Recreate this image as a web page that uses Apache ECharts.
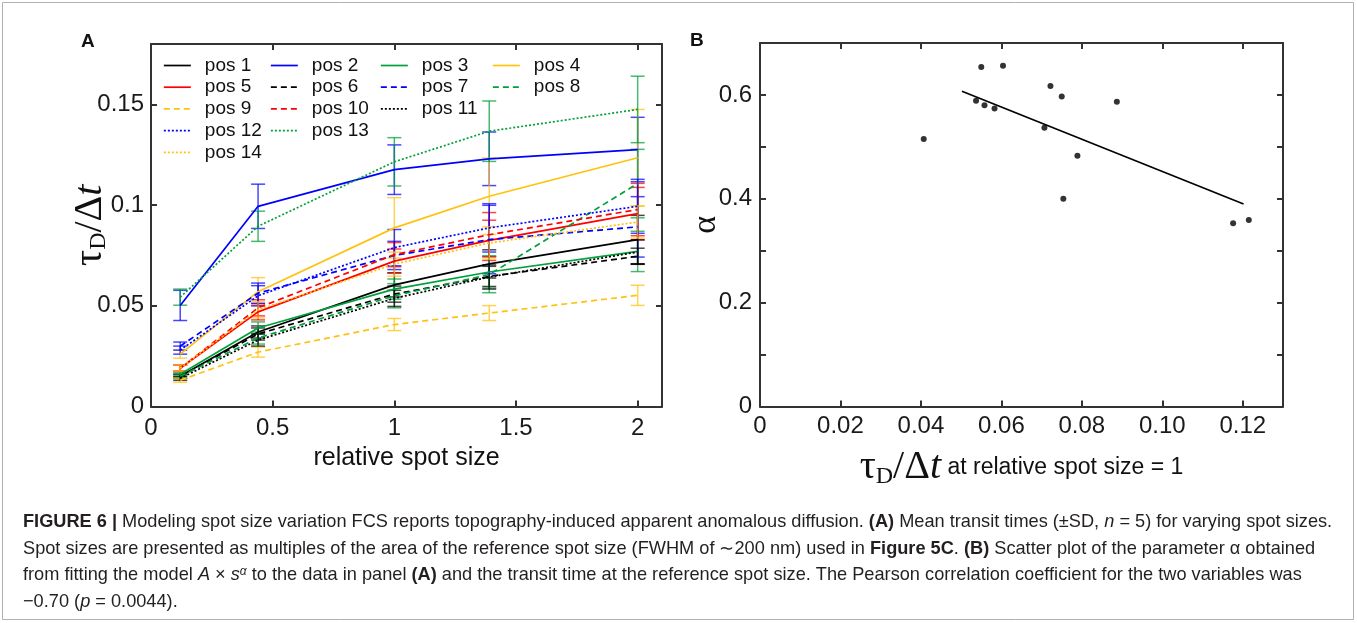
<!DOCTYPE html>
<html>
<head>
<meta charset="utf-8">
<script src="https://cdn.jsdelivr.net/npm/echarts@6/dist/echarts.min.js"></script>
<style>
html,body{margin:0;padding:0;background:#fff;}
#chart{width:1357px;height:623px;}
</style>
</head>
<body>
<div id="chart"></div>
<script>
// ---------- Panel A data ----------
const spotSizes = [0.12, 0.44, 1, 1.39, 2];
const posNames = ['pos 1','pos 2','pos 3','pos 4','pos 5','pos 6','pos 7','pos 8','pos 9','pos 10','pos 11','pos 12','pos 13','pos 14'];
const pos1  = [0.015, 0.037, 0.0604, 0.0708, 0.0829];
const pos2  = [0.0502, 0.0994, 0.1176, 0.1230, 0.1276];
const pos3  = [0.016, 0.039, 0.0583, 0.0668, 0.0770];
const pos4  = [0.026, 0.057, 0.0887, 0.1044, 0.1235];
const pos5  = [0.019, 0.047, 0.0722, 0.0825, 0.0958];
const pos6  = [0.015, 0.036, 0.0558, 0.0646, 0.0746];
const pos7  = [0.030, 0.0563, 0.0750, 0.0829, 0.0892];
const pos8  = [0.015, 0.034, 0.0550, 0.0655, 0.1107];
const pos9  = [0.013, 0.027, 0.0407, 0.0464, 0.0552];
const pos10 = [0.019, 0.049, 0.0754, 0.0853, 0.0978];
const pos11 = [0.014, 0.033, 0.0537, 0.0643, 0.0767];
const pos12 = [0.028, 0.055, 0.0789, 0.0887, 0.0994];
const pos13 = [0.0543, 0.0895, 0.1215, 0.1367, 0.1475];
const pos14 = [0.019, 0.048, 0.0707, 0.0812, 0.0916];
const sd1  = [0.001, 0.003, 0.006, 0.007, 0.012];
const sd2  = [0.0075, 0.011, 0.0123, 0.0133, 0.016];
const sd3  = [0.001, 0.003, 0.005, 0.008, 0.010];
const sd4  = [0.002, 0.007, 0.015, 0.019, 0.024];
const sd5  = [0.0015, 0.004, 0.006, 0.010, 0.013];
const sd6  = [0.001, 0.003, 0.004, 0.005, 0.004];
const sd7  = [0.002, 0.005, 0.007, 0.017, 0.015];
const sd8  = [0.001, 0.003, 0.006, 0.009, 0.017];
const sd9  = [0.001, 0.0025, 0.003, 0.0037, 0.005];
const sd10 = [0.0015, 0.004, 0.006, 0.011, 0.013];
const sd11 = [0.001, 0.003, 0.004, 0.006, 0.006];
const sd12 = [0.002, 0.005, 0.009, 0.012, 0.0134];
const sd13 = [0.004, 0.0075, 0.012, 0.015, 0.0165];
const sd14 = [0.0015, 0.004, 0.006, 0.008, 0.008];
const aXTicks = [0, 0.5, 1, 1.5, 2];
const aXTickLabels = ['0', '0.5', '1', '1.5', '2'];
const aYTicks = [0, 0.05, 0.1, 0.15];
const aYTickLabels = ['0', '0.05', '0.1', '0.15'];

// ---------- Panel B data ----------
const bTau   = [0.0407, 0.0537, 0.0550, 0.0558, 0.0583, 0.0604, 0.0707, 0.0722, 0.0750, 0.0754, 0.0789, 0.0887, 0.1176, 0.1215];
const bAlpha = [0.515, 0.589, 0.654, 0.580, 0.574, 0.656, 0.537, 0.617, 0.597, 0.400, 0.483, 0.587, 0.353, 0.359];
const fitX = [0.0502, 0.1202];
const fitY = [0.607, 0.390];
const bXTicks = [0, 0.02, 0.04, 0.06, 0.08, 0.10, 0.12];
const bXTickLabels = ['0', '0.02', '0.04', '0.06', '0.08', '0.10', '0.12'];
const bYTicks = [0, 0.2, 0.4, 0.6];
const bYTickLabels = ['0', '0.2', '0.4', '0.6'];

// ---------- styles ----------
const means = [pos1,pos2,pos3,pos4,pos5,pos6,pos7,pos8,pos9,pos10,pos11,pos12,pos13,pos14];
const sds = [sd1,sd2,sd3,sd4,sd5,sd6,sd7,sd8,sd9,sd10,sd11,sd12,sd13,sd14];
const K='#000000', B='#0000ff', G='#00a03a', Y='#ffc20e', R='#ff0000';
const colors = [K,B,G,Y,R,K,B,G,Y,R,K,B,G,Y];
const SOLID='solid', DASH=[6,4], DOT=[2,2];
const dashes = [SOLID,SOLID,SOLID,SOLID,SOLID,DASH,DASH,DASH,DASH,DASH,DOT,DOT,DOT,DOT];

const SANS = '"Liberation Sans", Arial, sans-serif';
const SERIF = '"Liberation Serif", "DejaVu Serif", serif';
const AX = '#333333';

function labelFrom(ticks, labels) {
  return function (v) {
    for (let i = 0; i < ticks.length; i++) if (Math.abs(ticks[i] - v) < 1e-6) return labels[i];
    return '';
  };
}

function mkAxis(o) {
  return Object.assign({
    type: 'value',
    axisLine: { show: true, onZero: false, lineStyle: { color: AX, width: 2 } },
    axisTick: { show: true, inside: true, length: 6, lineStyle: { color: AX, width: 2 } },
    splitLine: { show: false },
    axisLabel: { show: false },
    nameMoveOverlap: false
  }, o);
}

const tickFont = { fontFamily: SANS, fontSize: 24, color: '#1a1a1a' };

const series = [];
// error bars
means.forEach((m, k) => {
  const col = colors[k];
  series.push({
    type: 'custom', name: posNames[k] + ' SD', xAxisIndex: 0, yAxisIndex: 0, silent: true, z: 1,
    data: spotSizes.map((x, i) => [x, m[i] - sds[k][i], m[i] + sds[k][i]]),
    encode: { x: 0, y: [1, 2] },
    renderItem: function (params, api) {
      const x = api.value(0);
      const lo = api.coord([x, api.value(1)]);
      const hi = api.coord([x, api.value(2)]);
      const hw = 7;
      const st = { stroke: col, lineWidth: 1.5, opacity: 0.72 };
      return { type: 'group', children: [
        { type: 'line', shape: { x1: lo[0], y1: lo[1], x2: hi[0], y2: hi[1] }, style: st },
        { type: 'line', shape: { x1: lo[0] - hw, y1: lo[1], x2: lo[0] + hw, y2: lo[1] }, style: st },
        { type: 'line', shape: { x1: hi[0] - hw, y1: hi[1], x2: hi[0] + hw, y2: hi[1] }, style: st }
      ]};
    }
  });
});
// mean lines
means.forEach((m, k) => {
  series.push({
    type: 'line', name: posNames[k], xAxisIndex: 0, yAxisIndex: 0, z: 3,
    symbol: 'none', showSymbol: false,
    lineStyle: { color: colors[k], width: 1.7, type: dashes[k] },
    itemStyle: { color: colors[k] },
    data: spotSizes.map((x, i) => [x, m[i]])
  });
});
// panel B
series.push({
  type: 'scatter', name: 'alpha', xAxisIndex: 2, yAxisIndex: 2, symbol: 'circle', symbolSize: 6,
  itemStyle: { color: '#000' },
  data: bTau.map((t, i) => [t, bAlpha[i]])
});
series.push({
  type: 'line', name: 'fit', xAxisIndex: 2, yAxisIndex: 2, symbol: 'none',
  lineStyle: { color: '#000', width: 1.7 },
  data: fitX.map((x, i) => [x, fitY[i]])
});

const legendCols = [
  { left: 163, names: ['pos 1','pos 5','pos 9','pos 12','pos 14'] },
  { left: 270, names: ['pos 2','pos 6','pos 10','pos 13'] },
  { left: 380, names: ['pos 3','pos 7','pos 11'] },
  { left: 492, names: ['pos 4','pos 8'] }
];
const legends = legendCols.map(c => ({
  orient: 'vertical', left: c.left, top: 56, padding: 0,
  itemWidth: 27, itemHeight: 14, itemGap: 2.7,
  data: c.names, selectedMode: false,
  itemStyle: { opacity: 0, borderWidth: 0 },
  lineStyle: { width: 1.7 },
  textStyle: { fontFamily: SANS, fontSize: 19, color: '#111', lineHeight: 19, padding: [0, 0, 0, 9] }
}));

const capF = 18.2;
const capRich = {
  b: { fontWeight: 'bold', fontSize: capF, fontFamily: SANS, fill: '#231f20', color: '#231f20' },
  i: { fontStyle: 'italic', fontSize: capF, fontFamily: SANS, fill: '#231f20', color: '#231f20' },
  sup: { fontStyle: 'italic', fontSize: 12, fontFamily: SANS, verticalAlign: 'top', fill: '#231f20', color: '#231f20' }
};
const capLines = [
  '{b|FIGURE 6 |} Modeling spot size variation FCS reports topography-induced apparent anomalous diffusion. {b|(A)} Mean transit times (±SD, {i|n} = 5) for varying spot sizes.',
  'Spot sizes are presented as multiples of the area of the reference spot size (FWHM of ∼200 nm) used in {b|Figure 5C}. {b|(B)} Scatter plot of the parameter α obtained',
  'from fitting the model {i|A} × {i|s}{sup|α} to the data in panel {b|(A)} and the transit time at the reference spot size. The Pearson correlation coefficient for the two variables was',
  '−0.70 ({i|p} = 0.0044).'
];
const capTops = [513, 540, 566, 593];

const graphics = [
  { type: 'rect', shape: { x: 2.5, y: 2.5, width: 1351, height: 617 }, style: { fill: 'none', stroke: '#b0b0b0', lineWidth: 1 }, silent: true },
  { type: 'text', left: 81, top: 32, style: { text: 'A', font: 'bold 19px ' + SANS, fill: '#111' } },
  { type: 'text', left: 690, top: 31, style: { text: 'B', font: 'bold 19px ' + SANS, fill: '#111' } }
];
capLines.forEach((t, i) => {
  graphics.push({ type: 'text', left: 23, top: capTops[i],
    style: { text: t, rich: capRich, fontSize: capF, fontFamily: SANS, fill: '#231f20' } });
});

const tauRich = {
  t: { fontFamily: SERIF, fontSize: 40, color: '#111' },
  s: { fontFamily: SERIF, fontSize: 24, color: '#111', verticalAlign: 'bottom', padding: [18, 0, 0, 0] },
  i: { fontFamily: SERIF, fontSize: 40, fontStyle: 'italic', color: '#111' },
  n: { fontFamily: SANS, fontSize: 23, color: '#111' }
};

const option = {
  animation: false,
  backgroundColor: '#ffffff',
  grid: [
    { left: 151, right: 695, top: 44, bottom: 216.5 },
    { left: 760, right: 74, top: 43, bottom: 216.5 }
  ],
  legend: legends,
  xAxis: [
    mkAxis({ gridIndex: 0, position: 'bottom', min: 0, max: 2.1, interval: 0.5,
      axisLabel: Object.assign({ show: true, margin: 10, formatter: labelFrom(aXTicks, aXTickLabels) }, tickFont),
      name: 'relative spot size', nameLocation: 'middle', nameGap: 37, nameMoveOverlap: true,
      nameTextStyle: { fontFamily: SANS, fontSize: 25, color: '#111' } }),
    mkAxis({ gridIndex: 0, position: 'top', min: 0, max: 2.1, interval: 0.5 }),
    mkAxis({ gridIndex: 1, position: 'bottom', min: 0, max: 0.13, interval: 0.02,
      axisLabel: Object.assign({ show: true, margin: 8, formatter: labelFrom(bXTicks, bXTickLabels) }, tickFont),
      name: '{t|τ}{s|D}{t|/Δ}{i|t}{n| at relative spot size = 1}', nameLocation: 'middle', nameGap: 40, nameMoveOverlap: true,
      nameTextStyle: { rich: tauRich } }),
    mkAxis({ gridIndex: 1, position: 'top', min: 0, max: 0.13, interval: 0.02 })
  ],
  yAxis: [
    mkAxis({ gridIndex: 0, position: 'left', min: 0, max: 0.18, interval: 0.05,
      axisLabel: Object.assign({ show: true, margin: 7, formatter: labelFrom(aYTicks, aYTickLabels) }, tickFont),
      name: '{t|τ}{s|D}{t|/Δ}{i|t}', nameLocation: 'middle', nameGap: 40, nameRotate: 90,
      nameTextStyle: { rich: tauRich } }),
    mkAxis({ gridIndex: 0, position: 'right', min: 0, max: 0.18, interval: 0.05 }),
    mkAxis({ gridIndex: 1, position: 'left', min: 0, max: 0.7, interval: 0.1,
      axisLabel: Object.assign({ show: true, margin: 8, formatter: labelFrom(bYTicks, bYTickLabels) }, tickFont),
      name: 'α', nameLocation: 'middle', nameGap: 37, nameRotate: 90,
      nameTextStyle: { fontFamily: SERIF, fontSize: 34, color: '#111' } }),
    mkAxis({ gridIndex: 1, position: 'right', min: 0, max: 0.7, interval: 0.1 })
  ],
  graphic: graphics,
  series: series
};

const chart = echarts.init(document.getElementById('chart'), null, { renderer: 'canvas' });
chart.setOption(option);
</script>
</body>
</html>
